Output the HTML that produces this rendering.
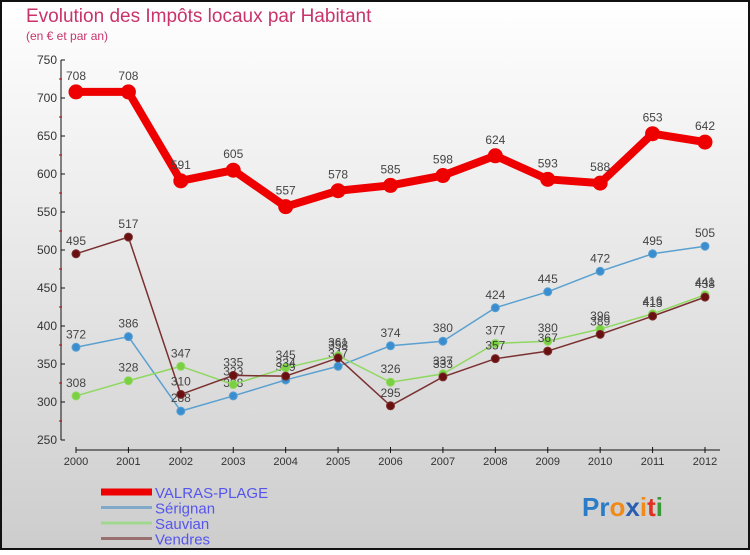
<!DOCTYPE html>
<html><head><meta charset="utf-8"><style>
html,body{margin:0;padding:0}
body{width:750px;height:550px;overflow:hidden;font-family:"Liberation Sans",sans-serif}
svg text{font-family:"Liberation Sans",sans-serif}
</style></head><body>
<svg id="chart" width="750" height="550" xmlns="http://www.w3.org/2000/svg">
<defs><linearGradient id="bg" x1="0" y1="0" x2="0" y2="1"><stop offset="0" stop-color="#ffffff"/><stop offset="1" stop-color="#cdcdcd"/></linearGradient></defs>
<rect x="1" y="1" width="748" height="548" fill="url(#bg)" stroke="#111" stroke-width="2"/>
<text x="26" y="22" font-size="19" fill="#c8346a">Evolution des Impôts locaux par Habitant</text>
<text x="26" y="40" font-size="12" fill="#c8346a">(en € et par an)</text>
<g id="axes"></g><g id="series"></g><g id="legend"></g>
<text x="582" y="516" font-size="26" font-weight="bold"><tspan fill="#2a7bc8">Pr</tspan><tspan fill="#f08a18">o</tspan><tspan fill="#2a5fb0">x</tspan><tspan fill="#f08a18">i</tspan><tspan fill="#e03020">t</tspan><tspan fill="#3a9a3a">i</tspan></text>
</svg>
<script>
const years=[2000,2001,2002,2003,2004,2005,2006,2007,2008,2009,2010,2011,2012];
const yTicks=[250,300,350,400,450,500,550,600,650,700,750];
const valras=[708,708,591,605,557,578,585,598,624,593,588,653,642];
const serignan=[372,386,288,308,329,347,374,380,424,445,472,495,505];
const sauvian=[308,328,347,323,345,361,326,337,377,380,396,416,441];
const vendres=[495,517,310,335,334,358,295,333,357,367,389,413,438];
const NS='http://www.w3.org/2000/svg';
function X(i){return 76+i*(705-76)/(years.length-1);}
function Y(v){return 440-(v-250)*(380/500);}
function mk(t,a,p){const e=document.createElementNS(NS,t);for(const k in a)e.setAttribute(k,a[k]);p.appendChild(e);return e;}
const ax=document.getElementById('axes');
let yl=mk('line',{x1:61,y1:60,x2:61,y2:440,stroke:'#111'},ax);


let xl=mk('line',{x1:76,y1:450,x2:720,y2:450,stroke:'#111'},ax);


yTicks.forEach(v=>{
 mk('line',{x1:61,y1:Y(v),x2:65,y2:Y(v),stroke:'#111'},ax);
 if(v<750)mk('line',{x1:59,y1:Y(v+25),x2:62,y2:Y(v+25),stroke:'#c00'},ax);
 const t=mk('text',{x:57,y:Y(v)+4,'text-anchor':'end','font-size':12,fill:'#333'},ax);t.textContent=v;
 
 
});
years.forEach((y,i)=>{
 mk('line',{x1:X(i),y1:447,x2:X(i),y2:453,stroke:'#111'},ax);
 const t=mk('text',{x:X(i),y:465,'text-anchor':'middle','font-size':11,fill:'#333'},ax);t.textContent=y;
 
 
});
const sg=document.getElementById('series');
function series(vals,color,w,r,dot,name){
 const g=mk('g',{},sg);
 
 
 mk('polyline',{points:vals.map((v,i)=>X(i)+','+Y(v)).join(' '),fill:'none',stroke:color,'stroke-width':w,'stroke-linejoin':'round'},g);
 vals.forEach((v,i)=>{
  const c=mk('circle',{cx:X(i),cy:Y(v),r:r,fill:dot,stroke:color,'stroke-width':1},g);
  
  
  const t=mk('text',{x:X(i),y:Y(v)-r-5,'text-anchor':'middle','font-size':12,fill:'#444'},g);t.textContent=v;
  
  
 });
}
series(serignan,'#5aa0d0',1.5,4,'#3a8ed0','serignan');
series(sauvian,'#8ed860',1.5,4,'#7ad040','sauvian');
series(vendres,'#7a3030',1.5,4,'#6a1010','vendres');
series(valras,'#ee0000',8,7,'#ee0000','valras-plage');
const lg=document.getElementById('legend');
[['VALRAS-PLAGE','#ee0000',7],['Sérignan','#80a8c8',3],['Sauvian','#a0d890',3],['Vendres','#987070',3]].forEach((d,i)=>{
 const y=492+i*15.5;
 const l=mk('line',{x1:101,y1:y,x2:152,y2:y,stroke:d[1],'stroke-width':d[2]},lg);
 
 
 const t=mk('text',{x:155,y:y+6,'font-size':15,fill:'#5555ee'},lg);t.textContent=d[0];
 
 
});
</script>
</body></html>
